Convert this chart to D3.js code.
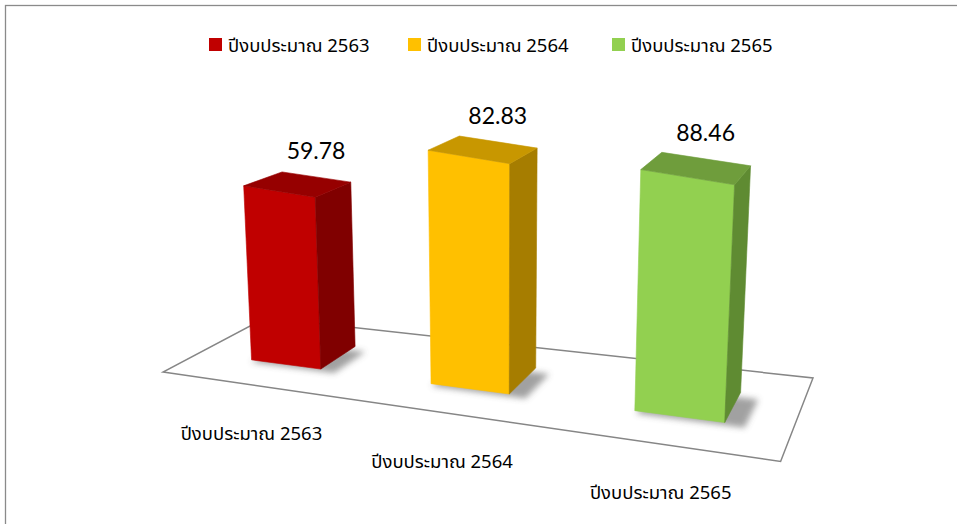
<!DOCTYPE html>
<html><head><meta charset="utf-8">
<script src="https://cdn.jsdelivr.net/npm/d3@7"></script>
<style>body{margin:0;background:#fff} svg{display:block}</style>
</head><body>
<script>
// ---- data ----
const categories = ["ปีงบประมาณ 2563", "ปีงบประมาณ 2564", "ปีงบประมาณ 2565"];
const seriesNames = ["ปีงบประมาณ 2563", "ปีงบประมาณ 2564", "ปีงบประมาณ 2565"];
const values = [59.78, 82.83, 88.46];
const valueLabels = ["59.78", "82.83", "88.46"];
const frontColors = ["#C00000", "#FFC000", "#92D050"];
const sideColors = ["#800000", "#A67D00", "#5F8B32"];
const topColors = ["#960000", "#C89700", "#6F9D3C"];

const W = 957, H = 524;
const svg = d3.select("body").append("svg").attr("width", W).attr("height", H);

// chart border
svg.append("rect").attr("x", 5.5).attr("y", 5.5).attr("width", 1200).attr("height", 1200)
  .attr("fill", "none").attr("stroke", "#8a8a8a").attr("stroke-width", 1.3);

// ---- 3D projection (floor mapping + vertical) ----
const FL = [163, 372], FR = [780.6, 461.4], BR = [813, 378], BL = [265.6, 317.8];
function makeHomography(p0, p1, p2, p3) {
  const dx1 = p1[0] - p2[0], dx2 = p3[0] - p2[0], dx3 = p0[0] - p1[0] + p2[0] - p3[0];
  const dy1 = p1[1] - p2[1], dy2 = p3[1] - p2[1], dy3 = p0[1] - p1[1] + p2[1] - p3[1];
  const den = dx1 * dy2 - dx2 * dy1;
  const g = (dx3 * dy2 - dx2 * dy3) / den;
  const h = (dx1 * dy3 - dx3 * dy1) / den;
  const a = p1[0] - p0[0] + g * p1[0], b = p3[0] - p0[0] + h * p3[0], c = p0[0];
  const d = p1[1] - p0[1] + g * p1[1], e = p3[1] - p0[1] + h * p3[1], f = p0[1];
  return (u, v) => {
    const w = g * u + h * v + 1;
    return [(a * u + b * v + c) / w, (d * u + e * v + f) / w];
  };
}
const homog = makeHomography(FL, FR, BR, BL);
function bilinear(u, v) {
  return [0, 1].map(k => (1 - v) * ((1 - u) * FL[k] + u * FR[k]) + v * ((1 - u) * BL[k] + u * BR[k]));
}
const persp = 0.73; // perspective strength
function floorMap(u, v) {
  const p = homog(u, v), q = bilinear(u, v);
  return [persp * p[0] + (1 - persp) * q[0], persp * p[1] + (1 - persp) * q[1]];
}
const VP = [500, 5860]; // vertical vanishing point

const x = d3.scaleBand().domain(categories).range([0.015, 3.015]).paddingInner(0.6).paddingOuter(0.3);
const uNorm = d3.scaleLinear().domain([0, 3]).range([0, 1]);
const y = d3.scaleLinear().domain([0, 100]).range([0, 1]);
const depth = [0.33, 0.71];
function wallPx(u, v) { return 305 - 28 * u - 33 * v; }
function project(u, v, val) {
  const p = floorMap(u, v);
  const hp = y(val) * wallPx(u, v);
  const dx = (p[0] - VP[0]) * hp / (VP[1] - p[1]);
  return [p[0] + dx, p[1] - hp];
}

// floor outline
const floorPts = [[0, 0], [1, 0], [1, 1], [0, 1]].map(q => floorMap(q[0], q[1]));
svg.append("polygon").attr("points", floorPts.map(p => p.join(",")).join(" "))
  .attr("fill", "none").attr("stroke", "#868686").attr("stroke-width", 1.5);

// shadow filter
const defs = svg.append("defs");
defs.append("filter").attr("id", "blur").attr("x", "-50%").attr("y", "-50%").attr("width", "200%").attr("height", "200%")
  .append("feGaussianBlur").attr("stdDeviation", 3);

const bars = categories.map((c, i) => {
  const u0 = uNorm(x(c)), u1 = uNorm(x(c) + x.bandwidth());
  return { c, i, u0, u1, v0: depth[0], v1: depth[1], val: values[i] };
});

const g = svg.append("g");
bars.forEach(b => {
  const {u0, u1, v0, v1, val, i} = b;
  const sh = [[u0 + 0.005, v0 - 0.03], [u1 + 0.03, v0 - 0.03], [u1 + 0.03, v1 - 0.06], [u0 + 0.005, v1 - 0.06]]
    .map(q => floorMap(q[0], q[1]));
  g.append("polygon").attr("points", sh.map(p => p.join(",")).join(" "))
    .attr("fill", "#444").attr("opacity", 0.5).attr("filter", "url(#blur)");
  const poly = (pts, fill) => g.append("polygon").attr("points", pts.map(p => p.join(",")).join(" "))
    .attr("fill", fill).attr("stroke", fill).attr("stroke-width", 0.6).attr("stroke-linejoin", "round");
  poly([project(u0, v0, 0), project(u1, v0, 0), project(u1, v0, val), project(u0, v0, val)], frontColors[i]);
  poly([project(u1, v0, 0), project(u1, v1, 0), project(u1, v1, val), project(u1, v0, val)], sideColors[i]);
  poly([project(u0, v0, val), project(u1, v0, val), project(u1, v1, val), project(u0, v1, val)], topColors[i]);
  const lp = project((u0 + u1) / 2, v1, val);
  g.append("text").attr("x", lp[0]).attr("y", lp[1] - 18).attr("text-anchor", "middle")
    .attr("font-family", "Lato, 'Open Sans', sans-serif").attr("font-size", 23).attr("fill", "#000")
    .text(valueLabels[i]);
});

// category labels along the front edge
const thaiFont = "Tahoma, 'Noto Sans Thai', 'Noto Sans', 'DejaVu Sans', sans-serif";
categories.forEach((c, i) => {
  const p = floorMap(uNorm(x(c) + x.bandwidth() / 2), 0);
  svg.append("text").attr("x", p[0] - 1).attr("y", p[1] + 55).attr("text-anchor", "middle")
    .attr("font-family", thaiFont).attr("font-size", 18.5).attr("fill", "#000").text(c);
});

// legend
const legendX = [209, 408, 612];
const lg = svg.append("g");
seriesNames.forEach((s, i) => {
  lg.append("rect").attr("x", legendX[i]).attr("y", 38).attr("width", 13).attr("height", 13).attr("fill", frontColors[i]);
  lg.append("text").attr("x", legendX[i] + 19).attr("y", 52).attr("font-family", thaiFont)
    .attr("font-size", 18.5).attr("fill", "#000").text(s);
});
</script>
</body></html>
